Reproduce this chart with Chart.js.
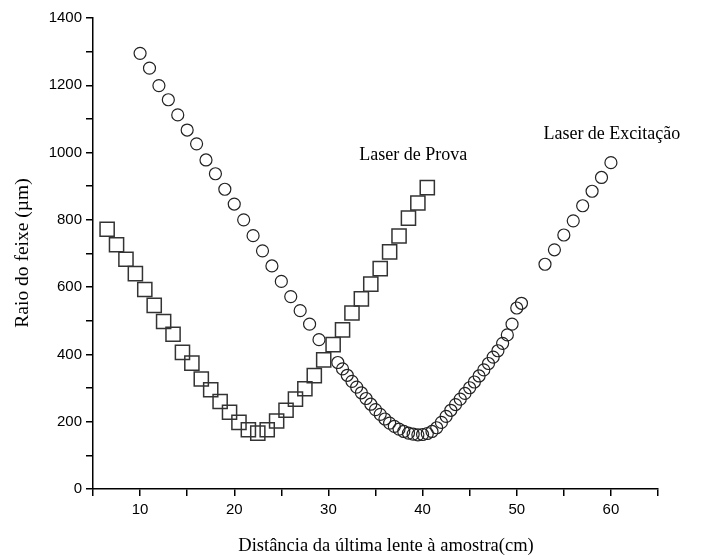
<!DOCTYPE html>
<html lang="pt">
<head>
  <meta charset="UTF-8">
  <title>Raio do feixe vs distância</title>
  <script src="https://cdn.jsdelivr.net/npm/chart.js"></script>
  <style>
    body { margin: 0; background: #fff; }
    canvas { display: block; }
  </style>
</head>
<body>
  <canvas id="myChart" width="706" height="560"></canvas>

  <script>
    // Laser de Prova (squares)
    const provaX = [6.5, 7.5, 8.5, 9.5, 10.5, 11.5, 12.5, 13.5, 14.5, 15.5,
      16.5, 17.5, 18.5, 19.5, 20.5, 21.5, 22.5, 23.5, 24.5, 25.5,
      26.5, 27.5, 28.5, 29.5, 30.5, 31.5, 32.5, 33.5, 34.5, 35.5,
      36.5, 37.5, 38.5, 39.5, 40.5];
    const provaY = [772, 726, 683, 640, 593, 546, 498, 460, 406, 374,
      327, 295, 260, 228, 198, 176, 166, 176, 202, 234,
      267, 298, 337, 384, 429, 473, 523, 565, 609, 655,
      705, 752, 805, 850, 896];

    // Laser de Excitação (circles)
    const excX = [10, 11, 12, 13, 14, 15, 16, 17, 18, 19,
      20, 21, 22, 23, 24, 25, 26, 27, 28, 29,
      31, 31.5, 32, 32.5, 33, 33.5, 34, 34.5, 35, 35.5,
      36, 36.5, 37, 37.5, 38, 38.5, 39, 39.5, 40, 40.5,
      41, 41.5, 42, 42.5, 43, 43.5, 44, 44.5, 45, 45.5,
      46, 46.5, 47, 47.5, 48, 48.5, 49, 49.5, 50, 50.5,
      53, 54, 55, 56, 57, 58, 59, 60];
    const excY = [1295, 1251, 1199, 1157, 1112, 1067, 1026, 978, 937, 891,
      847, 800, 753, 708, 663, 617, 572, 530, 490, 444,
      376, 357, 338, 320, 303, 286, 269, 252, 236, 222,
      208, 196, 186, 178, 171, 166, 163, 161, 162, 165,
      171, 182, 198, 216, 234, 251, 267, 284, 301, 318,
      336, 354, 373, 392, 411, 433, 458, 490, 538, 552,
      668, 711, 755, 797, 842, 885, 926, 970];

    // text labels inside the plot (data coordinates)
    const noteText = ['Laser de Prova', 'Laser de Excitação'];
    const noteX = [39, 60.1];
    const noteY = [993, 1055];

    const xTitle = 'Distância da última lente à amostra(cm)';
    const yTitle = 'Raio do feixe (µm)';

    const toPoints = (xs, ys) => xs.map((x, i) => ({ x: x, y: ys[i] }));

    // draws axis titles and the two series labels
    const textPlugin = {
      id: 'texts',
      afterDraw(chart) {
        const ctx = chart.ctx;
        const xs = chart.scales.x, ys = chart.scales.y;
        ctx.save();
        ctx.fillStyle = '#000';
        ctx.font = '18px "Liberation Serif"';
        ctx.textAlign = 'center';
        ctx.textBaseline = 'middle';
        noteText.forEach((t, i) => {
          ctx.fillText(t, xs.getPixelForValue(noteX[i]), ys.getPixelForValue(noteY[i]));
        });
        ctx.font = '18.5px "Liberation Serif"';
        ctx.fillText(xTitle, 386, 546);
        ctx.font = '19.5px "Liberation Serif"';
        ctx.translate(23, 253);
        ctx.rotate(-Math.PI / 2);
        ctx.fillText(yTitle, 0, 0);
        ctx.restore();
      }
    };

    const tickFont = { family: 'Liberation Sans', size: 15 };

    new Chart(document.getElementById('myChart').getContext('2d'), {
      type: 'scatter',
      data: {
        datasets: [{
          label: 'Laser de Prova',
          data: toPoints(provaX, provaY),
          pointStyle: 'rect',
          pointRadius: 10,
          borderColor: '#333',
          borderWidth: 1.5,
          backgroundColor: 'rgba(0,0,0,0)',
          showLine: false
        }, {
          label: 'Laser de Excitação',
          data: toPoints(excX, excY),
          pointStyle: 'circle',
          pointRadius: 6,
          borderColor: '#222',
          borderWidth: 1.2,
          backgroundColor: 'rgba(0,0,0,0)',
          showLine: false
        }]
      },
      options: {
        responsive: false,
        animation: false,
        layout: { padding: { top: 18, right: 48, bottom: 0, left: 0 } },
        plugins: { legend: { display: false }, tooltip: { enabled: false } },
        scales: {
          x: {
            type: 'linear',
            min: 5,
            max: 65,
            afterFit(s) { s.height = 71; },
            ticks: {
              stepSize: 5,
              autoSkip: false,
              maxRotation: 0,
              padding: 5,
              color: '#000',
              font: tickFont,
              callback: v => (v % 10 === 0 ? v : '')
            },
            grid: { drawOnChartArea: false, tickLength: 7, color: '#000', lineWidth: 1.5 },
            border: { color: '#000', width: 1.5 }
          },
          y: {
            type: 'linear',
            min: 0,
            max: 1400,
            afterFit(s) { s.width = 93; },
            ticks: {
              stepSize: 100,
              autoSkip: false,
              padding: 4,
              color: '#000',
              font: tickFont,
              callback: v => (v % 200 === 0 ? v : '')
            },
            grid: { drawOnChartArea: false, tickLength: 7, color: '#000', lineWidth: 1.5 },
            border: { color: '#000', width: 1.5 }
          }
        }
      },
      plugins: [textPlugin]
    });
  </script>
</body>
</html>
